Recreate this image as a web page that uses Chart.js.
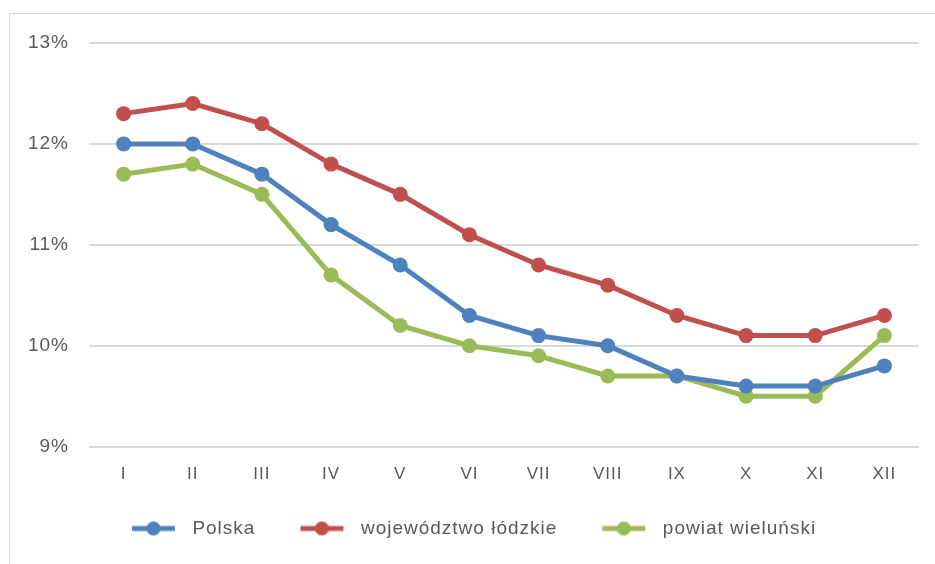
<!DOCTYPE html>
<html>
<head>
<meta charset="utf-8">
<script src="https://cdn.jsdelivr.net/npm/chart.js@4.4.0/dist/chart.umd.min.js"></script>
<style>
  html, body { margin: 0; padding: 0; background: #fff; }
  #wrap { width: 935px; height: 564px; position: relative; }
</style>
</head>
<body>
<div id="wrap"><canvas id="unemploymentChart" width="935" height="564"></canvas></div>
<script>
const months = ['I', 'II', 'III', 'IV', 'V', 'VI', 'VII', 'VIII', 'IX', 'X', 'XI', 'XII'];
const polska = [12.0, 12.0, 11.7, 11.2, 10.8, 10.3, 10.1, 10.0, 9.7, 9.6, 9.6, 9.8];
const lodzkie = [12.3, 12.4, 12.2, 11.8, 11.5, 11.1, 10.8, 10.6, 10.3, 10.1, 10.1, 10.3];
const wielunski = [11.7, 11.8, 11.5, 10.7, 10.2, 10.0, 9.9, 9.7, 9.7, 9.5, 9.5, 10.1];
const seriesNames = ['Polska', 'województwo łódzkie', 'powiat wieluński'];
const seriesColors = ['#4F81BD', '#C0504D', '#9BBB59'];

const textColor = '#595959';
const fontFamily = '"Liberation Sans", Arial, sans-serif';
const symbolBox = 80;

// legend symbol: line with a dot, pushed to the right side of its box
function legendSymbol(color) {
    const c = document.createElement('canvas');
    c.width = symbolBox;
    c.height = 16;
    const g = c.getContext('2d');
    const x0 = symbolBox - 51, x1 = symbolBox - 8;
    g.strokeStyle = color;
    g.lineWidth = 5;
    g.beginPath();
    g.moveTo(x0, 8);
    g.lineTo(x1, 8);
    g.stroke();
    g.fillStyle = color;
    g.beginPath();
    g.arc((x0 + x1) / 2, 8, 7, 0, Math.PI * 2);
    g.fill();
    return c;
}

const spacing = {
    id: 'spacing',
    beforeUpdate(chart) { chart.ctx.letterSpacing = '1px'; },
    beforeDraw(chart) {
        const ctx = chart.ctx;
        ctx.letterSpacing = '1px';
        ctx.save();
        ctx.strokeStyle = '#d9d9d9';
        ctx.lineWidth = 1;
        ctx.strokeRect(9.5, 13.5, 940, 600);
        ctx.restore();
    }
};

const datasets = [polska, lodzkie, wielunski].map((values, i) => ({
    label: seriesNames[i],
    data: values,
    borderColor: seriesColors[i],
    backgroundColor: seriesColors[i],
    borderWidth: 5,
    pointRadius: 7.5,
    pointHoverRadius: 7.5,
    pointStyle: 'circle',
    pointBorderWidth: 0,
    tension: 0
}));

new Chart(document.getElementById('unemploymentChart'), {
    type: 'line',
    data: { labels: months, datasets },
    plugins: [spacing],
    options: {
        responsive: false,
        animation: false,
        layout: { padding: { top: 43, right: 16, left: 0, bottom: 16 } },
        plugins: {
            tooltip: { enabled: false },
            legend: {
                position: 'bottom',
                labels: {
                    color: textColor,
                    font: { family: fontFamily, size: 19 },
                    usePointStyle: true,
                    pointStyleWidth: symbolBox,
                    padding: 16,
                    generateLabels(chart) {
                        return chart.data.datasets.map((ds, i) => ({
                            text: ds.label,
                            pointStyle: legendSymbol(ds.borderColor),
                            fillStyle: ds.borderColor,
                            strokeStyle: ds.borderColor,
                            lineWidth: 0,
                            fontColor: textColor,
                            datasetIndex: i,
                            hidden: false
                        }));
                    }
                }
            }
        },
        scales: {
            x: {
                offset: true,
                grid: { display: false, drawTicks: false },
                border: { display: false },
                ticks: { color: textColor, font: { family: fontFamily, size: 17 }, padding: 18 }
            },
            y: {
                min: 9,
                max: 13,
                afterFit(scale) { scale.width = 89; },
                grid: { color: '#d9d9d9', lineWidth: 2, drawTicks: false },
                border: { display: false },
                ticks: {
                    stepSize: 1,
                    color: textColor,
                    font: { family: fontFamily, size: 19 },
                    padding: 20,
                    callback: v => v + '%'
                }
            }
        }
    }
});
</script>
</body>
</html>
